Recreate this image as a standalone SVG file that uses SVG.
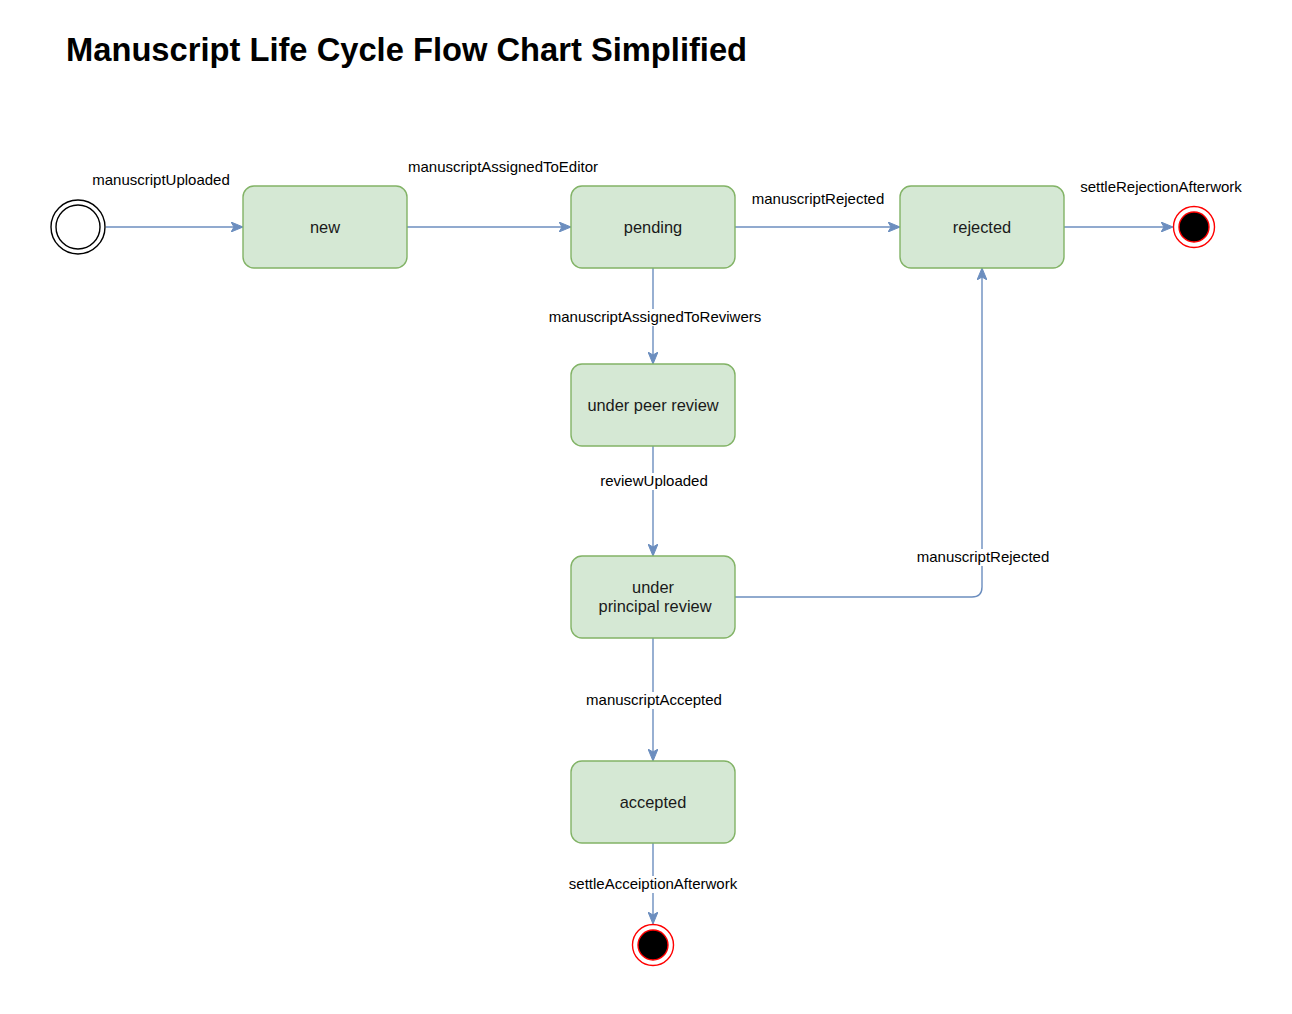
<svg xmlns="http://www.w3.org/2000/svg" width="1292" height="1014" viewBox="0 0 1292 1014">
<style>
.node rect{fill:#d5e8d4;stroke:#82b366;stroke-width:1.4}
.nt{font-family:"Liberation Sans",Arial,sans-serif;font-size:16.4px;fill:#1a1a1a;text-anchor:middle}
.lt{font-family:"Liberation Sans",Arial,sans-serif;font-size:15px;fill:#000;text-anchor:middle}
.edge{fill:none;stroke:#6c8ebf;stroke-width:1.4;marker-end:url(#arr)}
.lbg{fill:#fff}
</style>
<defs>
<marker id="arr" viewBox="0 0 12 10" refX="11" refY="5" markerWidth="12" markerHeight="10" markerUnits="userSpaceOnUse" orient="auto">
<path d="M0,0 L12,5 L0,10 L3,5 Z" fill="#6c8ebf" stroke="#6c8ebf" stroke-width="1"/>
</marker>
</defs>
<rect width="1292" height="1014" fill="#fff"/>
<text x="66" y="61" font-family="Liberation Sans,Arial,sans-serif" font-size="32.7" font-weight="bold" fill="#000">Manuscript Life Cycle Flow Chart Simplified</text>

<g id="connectors">
<path class="edge" d="M106,227 L242,227"/>
<path class="edge" d="M407,227 L570,227"/>
<path class="edge" d="M735,227 L899,227"/>
<path class="edge" d="M1064,227 L1172,227"/>
<path class="edge" d="M653,268 L653,363"/>
<path class="edge" d="M653,446 L653,555"/>
<path class="edge" d="M735,597 L972,597 Q982,597 982,587 L982,269"/>
<path class="edge" d="M653,638 L653,760"/>
<path class="edge" d="M653,843 L653,923"/>
<g id="labels">
<text class="lt" x="161" y="185">manuscriptUploaded</text>
<text class="lt" x="503" y="172">manuscriptAssignedToEditor</text>
<text class="lt" x="818" y="204">manuscriptRejected</text>
<text class="lt" x="1161" y="192">settleRejectionAfterwork</text>
<rect class="lbg" x="548" y="309" width="214" height="17"/>
<text class="lt" x="655" y="322">manuscriptAssignedToReviwers</text>
<rect class="lbg" x="600" y="473" width="109" height="17"/>
<text class="lt" x="654" y="486">reviewUploaded</text>
<rect class="lbg" x="917" y="549" width="133" height="17"/>
<text class="lt" x="983" y="562">manuscriptRejected</text>
<rect class="lbg" x="586" y="692" width="137" height="17"/>
<text class="lt" x="654" y="705">manuscriptAccepted</text>
<rect class="lbg" x="568" y="876" width="170" height="17"/>
<text class="lt" x="653" y="889">settleAcceiptionAfterwork</text>
</g>
</g>

<g id="start">
<circle cx="78" cy="227" r="27" fill="#fff" stroke="#000" stroke-width="1.4"/>
<circle cx="78" cy="227" r="22" fill="#fff" stroke="#000" stroke-width="1.4"/>
</g>
<g id="new" class="node">
<rect x="243" y="186" width="164" height="82" rx="11"/>
<text class="nt" x="325" y="233">new</text>
</g>
<g id="pending" class="node">
<rect x="571" y="186" width="164" height="82" rx="11"/>
<text class="nt" x="653" y="233">pending</text>
</g>
<g id="rejected" class="node">
<rect x="900" y="186" width="164" height="82" rx="11"/>
<text class="nt" x="982" y="233">rejected</text>
</g>
<g id="end-rejected">
<circle cx="1194" cy="227" r="20.5" fill="#fff" stroke="#ff0000" stroke-width="1.4"/>
<circle cx="1194" cy="227" r="15" fill="#000" stroke="#ff0000" stroke-width="1.4"/>
</g>
<g id="under-peer-review" class="node">
<rect x="571" y="364" width="164" height="82" rx="11"/>
<text class="nt" x="653" y="411">under peer review</text>
</g>
<g id="under-principal-review" class="node">
<rect x="571" y="556" width="164" height="82" rx="11"/>
<text class="nt" x="653" y="593">under</text>
<text class="nt" x="655" y="612">principal review</text>
</g>
<g id="accepted" class="node">
<rect x="571" y="761" width="164" height="82" rx="11"/>
<text class="nt" x="653" y="808">accepted</text>
</g>
<g id="end-accepted">
<circle cx="653" cy="945" r="20.5" fill="#fff" stroke="#ff0000" stroke-width="1.4"/>
<circle cx="653" cy="945" r="15" fill="#000" stroke="#ff0000" stroke-width="1.4"/>
</g>
</svg>
